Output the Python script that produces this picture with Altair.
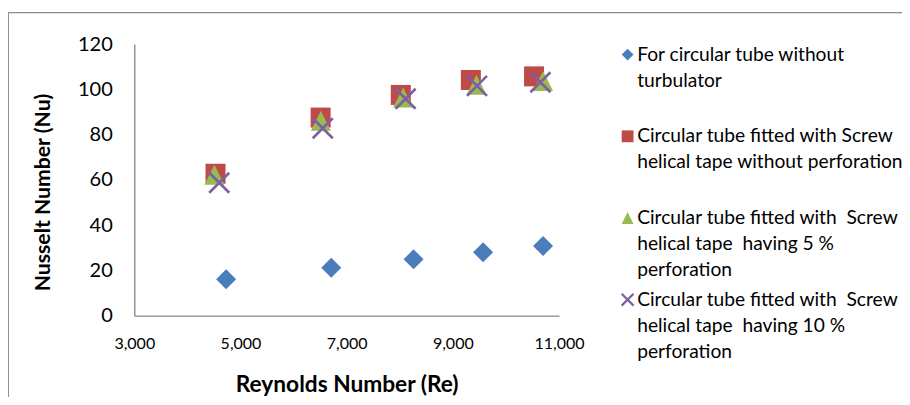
import altair as alt
import pandas as pd

# ---- data ----
series_names = [
    "For circular tube without|turbulator|",
    "Circular tube fitted with Screw|helical tape without perforation|",
    "Circular tube fitted with\u00a0 Screw|helical tape\u00a0 having 5 %|perforation",
    "Circular tube fitted with\u00a0 Screw|helical tape\u00a0 having 10 %|perforation",
]
re_plain = [4730, 6710, 8260, 9570, 10700]
nu_plain = [16.1, 21.2, 24.9, 28.0, 30.8]
re_no_perf = [4530, 6510, 8020, 9340, 10530]
nu_no_perf = [62.7, 87.5, 97.5, 104.1, 105.7]
re_perf5 = [4510, 6515, 8065, 9445, 10700]
nu_perf5 = [62.3, 86.1, 96.4, 102.0, 103.7]
re_perf10 = [4600, 6550, 8110, 9455, 10650]
nu_perf10 = [58.7, 82.8, 95.8, 101.5, 103.1]

x_ticks = [3000, 5000, 7000, 9000, 11000]
y_ticks = [0, 20, 40, 60, 80, 100, 120]

fill_colors = ["#4A7EBB", "#BE4B48", "#98B954", "#7D60A0"]
stroke_colors = ["transparent", "transparent", "transparent", "#7D60A0"]
shapes = [
    "M0,-1L1,0L0,1L-1,0Z",
    "M-1,-1L1,-1L1,1L-1,1Z",
    "M0,-1L1,1L-1,1Z",
    "M-1,-1L1,1M-1,1L1,-1",
]

rows = []
for name, xs, ys in zip(
    series_names,
    [re_plain, re_no_perf, re_perf5, re_perf10],
    [nu_plain, nu_no_perf, nu_perf5, nu_perf10],
):
    for x, y in zip(xs, ys):
        rows.append({"series": name, "Re": x, "Nu": y})
df = pd.DataFrame(rows)

FONT = "Lato"
LABEL_DY = 6  # drops guide labels so legend text sits level with its symbol

legend = alt.Legend(
    title=None,
    orient="none",
    legendX=483.7,
    legendY=1,
    labelExpr="split(datum.label, '|')",
    labelFont=FONT,
    labelFontSize=19.2,
    labelColor="#000000",
    labelLimit=400,
    labelBaseline="alphabetic",
    labelOffset=0,
    symbolSize=140,
    symbolStrokeWidth=2.2,
    rowPadding=8.7,
    padding=0,
)

points = (
    alt.Chart(df)
    .mark_point(filled=True, size=400, strokeWidth=2.6, opacity=1)
    .encode(
        x=alt.X(
            "Re:Q",
            scale=alt.Scale(domain=[3000, 11000], nice=False, zero=False),
            axis=alt.Axis(
                title="Reynolds Number (Re)",
                values=x_ticks,
                format=",d",
                grid=False,
                ticks=False,
                tickSize=0,
                labelFlush=False,
                domainColor="#868686",
                domainWidth=1.3,
                labelFont=FONT,
                labelFontSize=16,
                labelColor="#000000",
                labelBaseline="middle",
                labelPadding=28 - LABEL_DY,
                titleFont=FONT,
                titleFontSize=22.7,
                titleFontWeight="bold",
                titleColor="#000000",
                titleY=69,
                titleBaseline="middle",
            ),
        ),
        y=alt.Y(
            "Nu:Q",
            scale=alt.Scale(domain=[0, 120], nice=False),
            axis=alt.Axis(
                title="Nusselt Number (Nu)",
                values=y_ticks,
                grid=False,
                ticks=False,
                tickSize=0,
                labelFlush=False,
                domainColor="#868686",
                domainWidth=1.3,
                labelFont=FONT,
                labelFontSize=20,
                labelColor="#000000",
                labelPadding=22,
                labelOffset=-LABEL_DY,
                titleFont=FONT,
                titleFontSize=21.2,
                titleFontWeight="bold",
                titleColor="#000000",
                titleX=-91,
                titleY=148,
                titleAngle=270,
                titleAlign="center",
                titleBaseline="middle",
            ),
        ),
        fill=alt.Fill("series:N", scale=alt.Scale(domain=series_names, range=fill_colors), legend=legend),
        stroke=alt.Stroke("series:N", scale=alt.Scale(domain=series_names, range=stroke_colors), legend=legend),
        shape=alt.Shape("series:N", scale=alt.Scale(domain=series_names, range=shapes), legend=legend),
    )
)

frame = (
    alt.Chart(pd.DataFrame({"k": [0]}))
    .mark_rect(fill="transparent", stroke="#8C8C8C", strokeWidth=1.3)
    .encode(x=alt.value(-126), x2=alt.value(1000), y=alt.value(-31.3), y2=alt.value(600))
)

chart = (
    alt.layer(frame, points)
    .properties(
        width=424.7,
        height=271.7,
        autosize=alt.AutoSizeParams(type="none"),
        padding={"left": 126.3, "top": 36, "right": 343, "bottom": 81.3},
    )
    .configure(background="white", style={"guide-label": {"lineHeight": 26, "dy": LABEL_DY}})
    .configure_view(stroke=None)
)

chart.save("out.html", embed_options={"renderer": "svg", "actions": False})
